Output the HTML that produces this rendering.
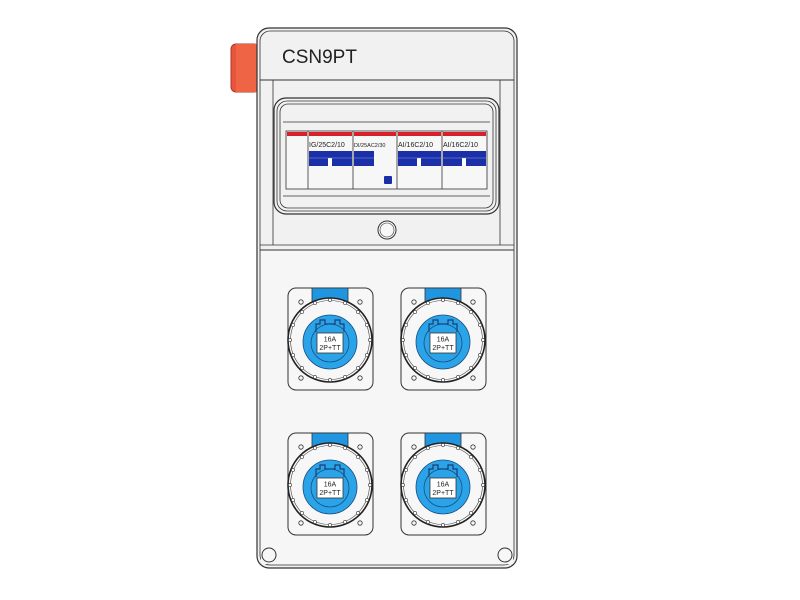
<!DOCTYPE html>
<html><head><style>html,body{margin:0;padding:0;background:#fff}svg{display:block}</style></head><body>
<svg width="800" height="600" viewBox="0 0 800 600" xmlns="http://www.w3.org/2000/svg" font-family="Liberation Sans, sans-serif">
<defs>
<g id="sock">
  <rect x="-42" y="-52" width="85" height="102" rx="8" fill="#f7f7f7" stroke="#333" stroke-width="1"/>
  <rect x="-18" y="-52" width="36" height="14" fill="#2196e0" stroke="#333" stroke-width="0.8"/>
  <circle cx="-29" cy="-38" r="2.2" fill="none" stroke="#333" stroke-width="0.8"/>
  <circle cx="30" cy="-38" r="2.2" fill="none" stroke="#333" stroke-width="0.8"/>
  <circle cx="-29" cy="38" r="2.2" fill="none" stroke="#333" stroke-width="0.8"/>
  <circle cx="30" cy="38" r="2.2" fill="none" stroke="#333" stroke-width="0.8"/>
  <circle cx="0" cy="0" r="42" fill="#f7f7f7" stroke="#222" stroke-width="1.6"/>
  <circle cx="0" cy="0" r="39.5" fill="none" stroke="#444" stroke-width="0.6"/>
  <g fill="#fff" stroke="#333" stroke-width="0.6">
    <circle cx="0" cy="-40" r="1.6"/><circle cx="0" cy="40" r="1.6"/><circle cx="-40" cy="0" r="1.6"/><circle cx="40" cy="0" r="1.6"/>
    <circle cx="28" cy="-28" r="1.6"/><circle cx="-28" cy="-28" r="1.6"/><circle cx="28" cy="28" r="1.6"/><circle cx="-28" cy="28" r="1.6"/>
    <circle cx="15" cy="-37" r="1.6"/><circle cx="-15" cy="-37" r="1.6"/><circle cx="15" cy="37" r="1.6"/><circle cx="-15" cy="37" r="1.6"/>
    <circle cx="37" cy="-15" r="1.6"/><circle cx="-37" cy="-15" r="1.6"/><circle cx="37" cy="15" r="1.6"/><circle cx="-37" cy="15" r="1.6"/>
  </g>
  <circle cx="0" cy="2" r="27" fill="#2aa3e8" stroke="#1a4e80" stroke-width="0.8"/>
  <path d="M-14,-8 L-14,-16 L-10,-16 L-10,-20 L-5,-20 L-5,-16 L5,-16 L5,-20 L10,-20 L10,-16 L14,-16 L14,-8" fill="none" stroke="#1a3e70" stroke-width="1.2"/>
  <circle cx="0" cy="3" r="19" fill="none" stroke="#1a4e80" stroke-width="0.8"/>
  <rect x="-13" y="-7" width="26" height="20" fill="#fff" stroke="#333" stroke-width="0.8"/>
  <text x="0" y="1.5" font-size="7" text-anchor="middle" fill="#222">16A</text>
  <text x="0" y="10" font-size="7" text-anchor="middle" fill="#222">2P+TT</text>
</g>
</defs>
<!-- red button -->
<rect x="231" y="44" width="28" height="48" rx="5" fill="#e8563a" stroke="#a33" stroke-width="1"/>
<rect x="236" y="44" width="22" height="48" fill="#ee6444"/>
<!-- enclosure -->
<rect x="257" y="28" width="260" height="540" rx="12" fill="#f1f1f1" stroke="#333" stroke-width="1.2"/>
<rect x="260" y="31" width="254" height="534" rx="10" fill="none" stroke="#333" stroke-width="0.8"/>
<rect x="261" y="250" width="252" height="314" fill="#f6f6f6"/>
<line x1="260" y1="80" x2="514" y2="80" stroke="#333" stroke-width="1"/>
<line x1="273" y1="80" x2="273" y2="245" stroke="#333" stroke-width="0.8"/>
<line x1="500" y1="80" x2="500" y2="245" stroke="#333" stroke-width="0.8"/>
<line x1="260" y1="245" x2="514" y2="245" stroke="#333" stroke-width="0.8"/>
<line x1="260" y1="250" x2="514" y2="250" stroke="#333" stroke-width="1"/>
<text x="282" y="63" font-size="19" fill="#222">CSN9PT</text>
<!-- window -->
<rect x="274" y="98" width="225" height="116" rx="12" fill="#f1f1f1" stroke="#333" stroke-width="1.2"/>
<rect x="277" y="101" width="219" height="110" rx="10" fill="none" stroke="#333" stroke-width="0.8"/>
<rect x="280" y="104" width="213" height="104" rx="8" fill="#f1f1f1" stroke="#333" stroke-width="0.8"/>
<line x1="283" y1="122" x2="490" y2="122" stroke="#333" stroke-width="0.8"/>
<line x1="283" y1="196" x2="490" y2="196" stroke="#333" stroke-width="0.8"/>
<!-- breakers -->
<rect x="286" y="131" width="201" height="58" fill="#f7f7f7" stroke="#333" stroke-width="0.8"/>
<rect x="287" y="132" width="20" height="4" fill="#d8202a"/>
<g stroke="#333" stroke-width="0.8"><line x1="308" y1="131" x2="308" y2="189"/><line x1="353" y1="131" x2="353" y2="189"/><line x1="397" y1="131" x2="397" y2="189"/><line x1="442" y1="131" x2="442" y2="189"/></g>
<g fill="#d8202a"><rect x="309" y="132" width="43" height="4"/><rect x="354" y="132" width="42" height="4"/><rect x="398" y="132" width="43" height="4"/><rect x="443" y="132" width="43" height="4"/></g>
<g font-size="7" fill="#222"><text x="309" y="147">IG/25C2/10</text><text x="354" y="147" font-size="5.5">DI/25AC2/30</text><text x="398" y="147">AI/16C2/10</text><text x="443" y="147">AI/16C2/10</text></g>
<g fill="#1a2fa8">
<rect x="309" y="151" width="43" height="15"/><rect x="398" y="151" width="43" height="15"/><rect x="443" y="151" width="43" height="15"/>
<rect x="354" y="151" width="20" height="15"/><rect x="384" y="176" width="8" height="8" rx="1"/>
</g>
<g fill="#fff"><rect x="328" y="158" width="4" height="8"/><rect x="417" y="158" width="4" height="8"/><rect x="462" y="158" width="4" height="8"/></g>
<g stroke="#8aa0e0" stroke-width="0.6"><line x1="309" y1="158" x2="352" y2="158"/><line x1="398" y1="158" x2="441" y2="158"/><line x1="443" y1="158" x2="486" y2="158"/><line x1="354" y1="158" x2="374" y2="158"/></g>
<circle cx="387" cy="230" r="9" fill="#f7f7f7" stroke="#333" stroke-width="1"/>
<circle cx="387" cy="230" r="7" fill="none" stroke="#333" stroke-width="0.6"/>
<!-- sockets -->
<use href="#sock" transform="translate(330,340)"/>
<use href="#sock" transform="translate(443,340)"/>
<use href="#sock" transform="translate(330,485)"/>
<use href="#sock" transform="translate(443,485)"/>
<!-- screws -->
<circle cx="269" cy="555" r="7" fill="#f7f7f7" stroke="#333" stroke-width="1"/>
<circle cx="505" cy="555" r="7" fill="#f7f7f7" stroke="#333" stroke-width="1"/>
</svg>
</body></html>
